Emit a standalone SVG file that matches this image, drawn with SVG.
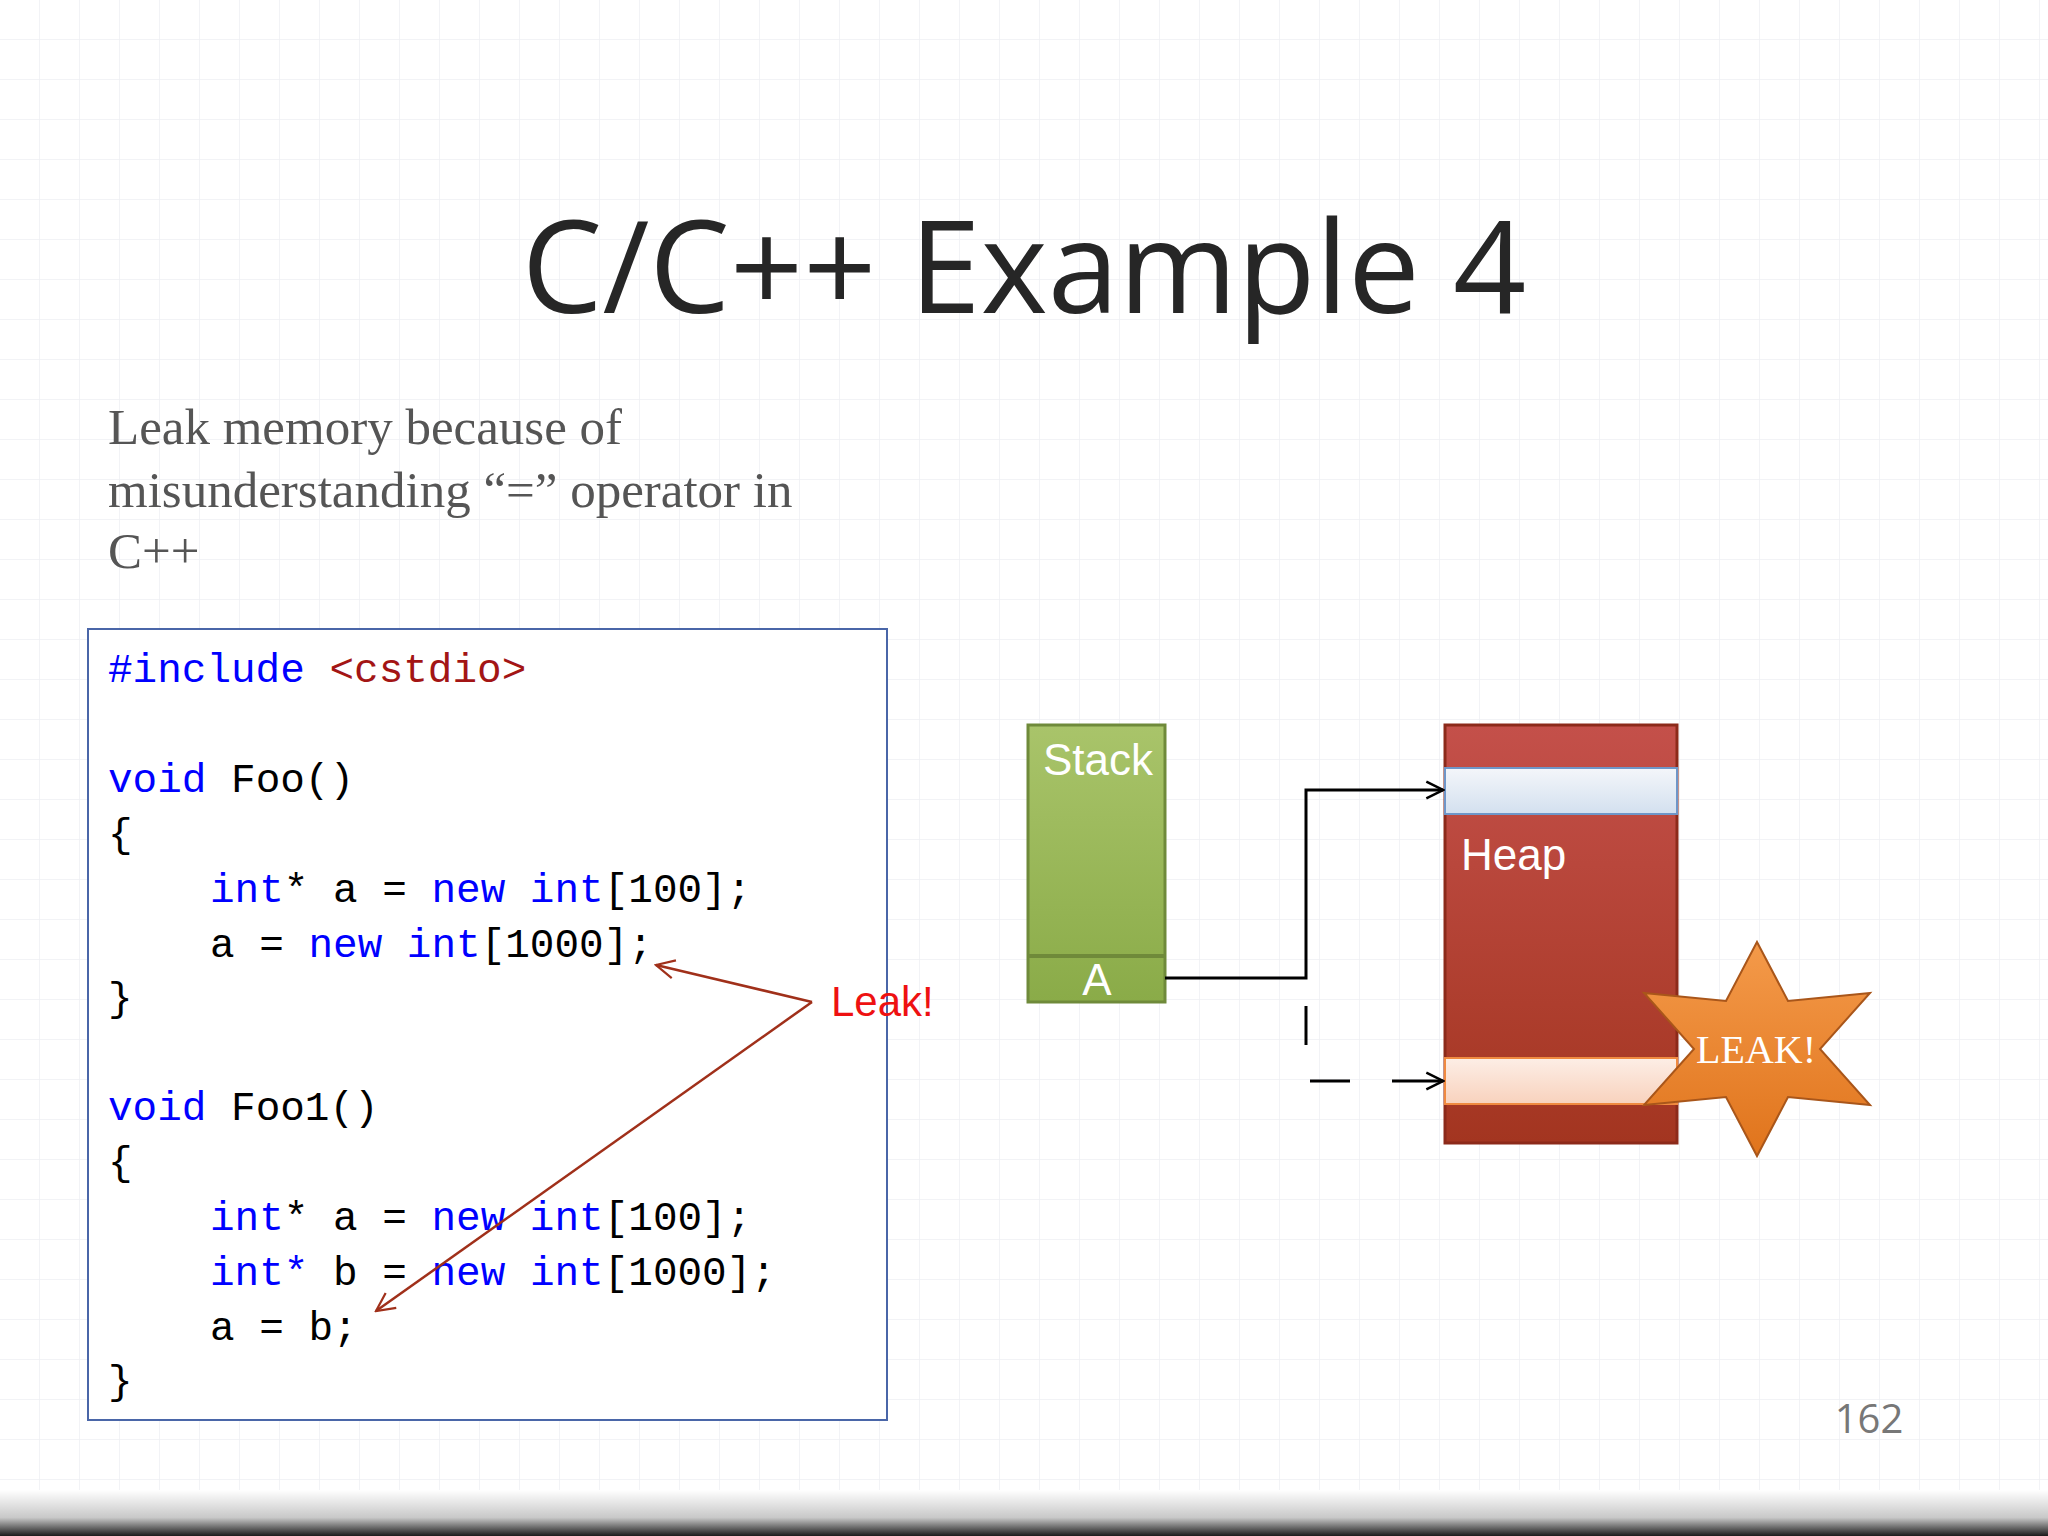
<svg xmlns="http://www.w3.org/2000/svg" width="2048" height="1536" viewBox="0 0 2048 1536">
<defs>
<pattern id="grid" width="40" height="40" patternUnits="userSpaceOnUse"><path d="M40 0V40H0" fill="none" stroke="#eef0f4" stroke-width="1.5"/></pattern>
<linearGradient id="gs" x1="0" y1="0" x2="0" y2="1"><stop offset="0" stop-color="#a9c46a"/><stop offset="1" stop-color="#8aab48"/></linearGradient>
<linearGradient id="gh" x1="0" y1="0" x2="0" y2="1"><stop offset="0" stop-color="#c4504a"/><stop offset="1" stop-color="#a33520"/></linearGradient>
<linearGradient id="gb" x1="0" y1="0" x2="0" y2="1"><stop offset="0" stop-color="#f4f6fa"/><stop offset="1" stop-color="#d3e0ef"/></linearGradient>
<linearGradient id="go" x1="0" y1="0" x2="0" y2="1"><stop offset="0" stop-color="#fdeee6"/><stop offset="1" stop-color="#f8d2bd"/></linearGradient>
<linearGradient id="gst" x1="0" y1="0" x2="0" y2="1"><stop offset="0" stop-color="#f49a4a"/><stop offset="1" stop-color="#e0741c"/></linearGradient>
<linearGradient id="bot" x1="0" y1="0" x2="0" y2="1"><stop offset="0" stop-color="#ffffff"/><stop offset="0.6" stop-color="#c8c8c8"/><stop offset="1" stop-color="#1a1a1a"/></linearGradient>
<marker id="ah" viewBox="0 0 12 12" refX="11" refY="6" markerWidth="20" markerHeight="20" markerUnits="userSpaceOnUse" orient="auto"><path d="M1 1L11 6L1 11" fill="none" stroke="#000" stroke-width="1.5"/></marker>
<marker id="ar" viewBox="0 0 12 12" refX="11" refY="6" markerWidth="22" markerHeight="22" markerUnits="userSpaceOnUse" orient="auto"><path d="M1 1L11 6L1 11" fill="none" stroke="#a0301a" stroke-width="1.2"/></marker>
<style>
.code{font-family:"Liberation Mono","DejaVu Sans Mono",monospace;font-size:41px;fill:#000}
.kw{fill:#0000ff}.str{fill:#a31515}
.w{font-family:"Liberation Sans",Arial,sans-serif;fill:#fff;font-size:44px}
</style>
</defs>
<rect width="2048" height="1536" fill="#fff"/>
<rect width="2048" height="1500" fill="url(#grid)"/>
<rect y="1490" width="2048" height="46" fill="url(#bot)"/>
<text x="1024" y="313" text-anchor="middle" font-family="Open Sans,Noto Sans,sans-serif" font-size="128" fill="#262626">C/C++ Example 4</text>
<g font-family="Liberation Serif,serif" font-size="51" fill="#555">
<text x="108" y="444">Leak memory because of</text>
<text x="108" y="507">misunderstanding “=” operator in</text>
<text x="108" y="568">C++</text>
</g>
<g id="code">
<rect x="88" y="629" width="799" height="791" fill="#fff" stroke="#4a66a8" stroke-width="2"/>
<text class="code" x="108" y="682"><tspan class="kw">#include</tspan> <tspan class="str">&lt;cstdio&gt;</tspan></text>
<text class="code" x="108" y="792"><tspan class="kw">void</tspan> Foo()</text>
<text class="code" x="108" y="847">{</text>
<text class="code" x="210" y="902"><tspan class="kw">int</tspan>* a = <tspan class="kw">new</tspan> <tspan class="kw">int</tspan>[100];</text>
<text class="code" x="210" y="957">a = <tspan class="kw">new</tspan> <tspan class="kw">int</tspan>[1000];</text>
<text class="code" x="108" y="1011">}</text>
<text class="code" x="108" y="1120"><tspan class="kw">void</tspan> Foo1()</text>
<text class="code" x="108" y="1175">{</text>
<text class="code" x="210" y="1230"><tspan class="kw">int</tspan>* a = <tspan class="kw">new</tspan> <tspan class="kw">int</tspan>[100];</text>
<text class="code" x="210" y="1285"><tspan class="kw">int</tspan><tspan class="kw">*</tspan> b = <tspan class="kw">new</tspan> <tspan class="kw">int</tspan>[1000];</text>
<text class="code" x="210" y="1340">a = b;</text>
<text class="code" x="108" y="1394">}</text>
</g>
<g id="leak-label"><text x="831" y="1016" font-family="Liberation Sans,Arial,sans-serif" font-size="42" fill="#ee1111">Leak!</text></g>
<g id="stack">
<rect x="1028" y="725" width="137" height="277" fill="url(#gs)" stroke="#6f8a3a" stroke-width="3"/>
<line x1="1028" y1="956" x2="1165" y2="956" stroke="#6f8a3a" stroke-width="4"/>
<text class="w" x="1043" y="775">Stack</text>
<text class="w" x="1097" y="995" text-anchor="middle">A</text>
</g>
<g id="heap">
<rect x="1445" y="725" width="232" height="418" fill="url(#gh)" stroke="#8c2a1a" stroke-width="3"/>
<rect x="1445" y="768" width="232" height="46" fill="url(#gb)" stroke="#6f96c8" stroke-width="2"/>
<rect x="1445" y="1058" width="232" height="46" fill="url(#go)" stroke="#f08a40" stroke-width="2"/>
<text class="w" x="1461" y="870">Heap</text>
</g>
<g id="star">
<polygon points="1757,942 1788,1001 1870,993 1820,1049 1870,1105 1788,1097 1757,1156 1726,1097 1644,1105 1694,1049 1644,993 1726,1001" fill="url(#gst)" stroke="#a9561a" stroke-width="2"/>
<text x="1756" y="1063" text-anchor="middle" font-family="Liberation Serif,serif" font-size="40" fill="#fff">LEAK!</text>
</g>
<g id="connectors" fill="none">
<path d="M1165 978H1306V790H1443" stroke="#000" stroke-width="3" marker-end="url(#ah)"/>
<line x1="1306" y1="1006" x2="1306" y2="1045" stroke="#000" stroke-width="3"/>
<line x1="1310" y1="1081" x2="1350" y2="1081" stroke="#000" stroke-width="3"/>
<line x1="1392" y1="1081" x2="1443" y2="1081" stroke="#000" stroke-width="3" marker-end="url(#ah)"/>
<line x1="812" y1="1002" x2="656" y2="965" stroke="#a0301a" stroke-width="2.5" marker-end="url(#ar)"/>
<line x1="812" y1="1002" x2="376" y2="1311" stroke="#a0301a" stroke-width="2.5" marker-end="url(#ar)"/>
</g>
<text x="1869" y="1433" text-anchor="middle" font-family="Open Sans,sans-serif" font-size="40" fill="#777">162</text>
</svg>
